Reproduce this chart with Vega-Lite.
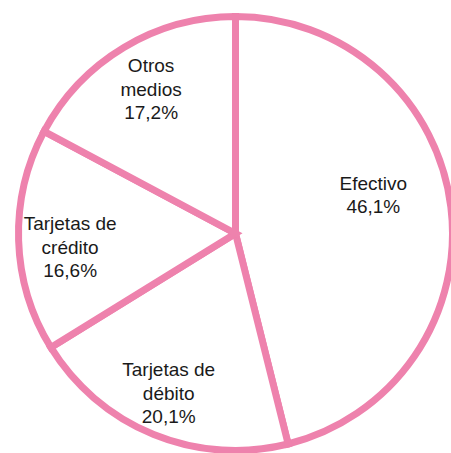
{
  "$schema": "https://vega.github.io/schema/vega-lite/v6.json",
  "width": 431,
  "height": 439,
  "autosize": {"type": "none"},
  "padding": {"left": 20, "top": 14, "right": 0, "bottom": 0},
  "background": "white",
  "view": {"stroke": null},
  "data": {
    "values": [
      {"medio": "Efectivo", "pct": 46.1, "label": "Efectivo\n46,1%"},
      {"medio": "Tarjetas de débito", "pct": 20.1, "label": "Tarjetas de\ndébito\n20,1%"},
      {"medio": "Tarjetas de crédito", "pct": 16.6, "label": "Tarjetas de\ncrédito\n16,6%"},
      {"medio": "Otros medios", "pct": 17.2, "label": "Otros\nmedios\n17,2%"}
    ]
  },
  "transform": [{"window": [{"op": "row_number", "as": "idx"}]}],
  "encoding": {
    "theta": {"field": "pct", "type": "quantitative", "stack": true},
    "order": {"field": "idx", "type": "quantitative", "sort": "ascending"}
  },
  "layer": [
    {
      "mark": {"type": "arc", "outerRadius": 217, "fill": "white", "stroke": "#EE82AD", "strokeWidth": 7, "strokeJoin": "miter"}
    },
    {
      "mark": {"type": "text", "radius": 143, "thetaOffset": -0.1475, "dy": -11.75, "font": "Liberation Sans", "fontSize": 19, "lineHeight": 23.5, "lineBreak": "\n", "align": "center", "baseline": "middle", "color": "#1a1a1a"},
      "encoding": {"text": {"condition": {"test": "datum.medio === 'Efectivo'", "field": "label"}, "value": ""}}
    },
    {
      "mark": {"type": "text", "radius": 173.5, "thetaOffset": 0.0087, "dy": -23.5, "font": "Liberation Sans", "fontSize": 19, "lineHeight": 23.5, "lineBreak": "\n", "align": "center", "baseline": "middle", "color": "#1a1a1a"},
      "encoding": {"text": {"condition": {"test": "datum.medio === 'Tarjetas de débito'", "field": "label"}, "value": ""}}
    },
    {
      "mark": {"type": "text", "radius": 166, "thetaOffset": -0.056, "dy": -23.5, "font": "Liberation Sans", "fontSize": 19, "lineHeight": 23.5, "lineBreak": "\n", "align": "center", "baseline": "middle", "color": "#1a1a1a"},
      "encoding": {"text": {"condition": {"test": "datum.medio === 'Tarjetas de crédito'", "field": "label"}, "value": ""}}
    },
    {
      "mark": {"type": "text", "radius": 166.5, "thetaOffset": 0.0087, "dy": -23.5, "font": "Liberation Sans", "fontSize": 19, "lineHeight": 23.5, "lineBreak": "\n", "align": "center", "baseline": "middle", "color": "#1a1a1a"},
      "encoding": {"text": {"condition": {"test": "datum.medio === 'Otros medios'", "field": "label"}, "value": ""}}
    }
  ]
}
